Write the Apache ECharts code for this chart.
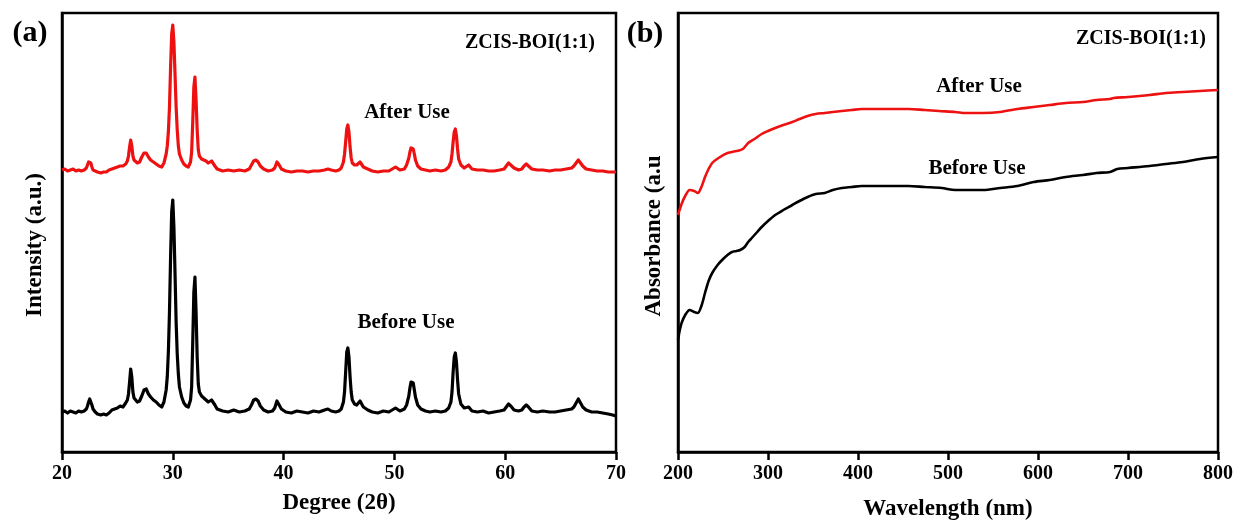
<!DOCTYPE html>
<html>
<head>
<meta charset="utf-8">
<script src="https://cdn.jsdelivr.net/npm/echarts@6/dist/echarts.min.js"></script>
<style>
  html, body { margin: 0; padding: 0; background: #fff; }
  #chart { width: 1236px; height: 523px; }
</style>
</head>
<body>
<div id="chart"></div>
<script>
// XRD patterns of ZCIS-BOI(1:1): [2θ (deg), intensity (a.u.)]
const xrdBefore = [
  [20.0,40],[20.25,41],[20.5,39],[20.75,41],[21.0,40],[21.25,39],[21.5,41],[21.75,40],[22.0,41],
  [22.2,43],[22.3,46],[22.4,50],[22.5,53],[22.6,52],[22.7,47],[22.8,43],[23.0,40],[23.2,38],
  [23.5,37],[23.75,38],[24.0,37],[24.25,39],[24.5,42],[24.75,43],[25.0,44],[25.25,46],[25.5,45],
  [25.75,49],[25.9,52],[26.0,58],[26.1,70],[26.2,83],[26.3,75],[26.4,60],[26.5,54],[26.6,52],
  [26.8,50],[27.0,51],[27.2,56],[27.4,62],[27.5,64],[27.6,63],[27.8,58],[28.0,55],[28.25,52],
  [28.5,50],[28.75,47],[29.0,45],[29.2,50],[29.4,62],[29.5,75],[29.6,100],[29.7,140],[29.8,195],
  [29.9,240],[30.0,252],[30.1,225],[30.2,179],[30.3,130],[30.4,98],[30.5,78],[30.6,65],[30.8,55],
  [31.0,49],[31.2,46],[31.4,45],[31.6,52],[31.7,65],[31.8,110],[31.9,160],[32.0,175],[32.1,140],
  [32.2,95],[32.3,68],[32.4,60],[32.6,56],[32.8,54],[33.0,52],[33.2,50],[33.5,52],[33.8,47],
  [34.0,43],[34.5,41],[35.0,40],[35.5,42],[36.0,40],[36.5,41],[36.9,43],[37.1,47],[37.3,52],
  [37.5,53],[37.7,51],[37.9,46],[38.2,42],[38.6,40],[39.0,41],[39.2,44],[39.4,51],[39.6,47],
  [39.8,43],[40.2,40],[40.7,39],[41.2,41],[41.7,40],[42.2,39],[42.7,41],[43.2,40],[43.7,42],
  [44.0,43],[44.3,41],[44.7,40],[45.0,41],[45.2,43],[45.4,50],[45.5,60],[45.6,80],[45.7,100],
  [45.8,104],[45.9,95],[46.0,75],[46.1,60],[46.2,52],[46.4,48],[46.6,47],[46.9,51],[47.2,45],
  [47.6,42],[48.0,40],[48.5,39],[49.0,41],[49.5,40],[50.1,44],[50.5,41],[50.9,43],[51.1,47],
  [51.3,56],[51.4,64],[51.5,70],[51.6,72],[51.7,69],[51.8,62],[51.9,55],[52.1,47],[52.4,43],
  [52.8,41],[53.2,40],[53.7,41],[54.2,40],[54.6,41],[54.9,44],[55.1,50],[55.2,60],[55.3,80],
  [55.4,95],[55.5,99],[55.6,90],[55.7,72],[55.8,58],[56.0,48],[56.3,44],[56.7,45],[57.0,41],
  [57.5,40],[58.0,41],[58.5,39],[59.0,40],[59.5,41],[59.9,42],[60.1,45],[60.3,48],[60.5,46],
  [60.8,42],[61.2,41],[61.5,42],[61.7,45],[61.9,47],[62.1,45],[62.4,41],[62.9,40],[63.4,41],
  [64.0,40],[64.5,40],[65.0,41],[65.5,42],[66.0,43],[66.2,45],[66.4,49],[66.6,53],[66.8,49],
  [67.0,45],[67.3,42],[67.8,40],[68.3,40],[68.8,39],[69.3,38],[69.7,37],[70.0,36]
];

const xrdAfter = [
  [20.0,282],[20.25,283],[20.5,281],[20.75,282],[21.0,283],[21.25,281],[21.5,282],[21.75,281],[22.0,282],
  [22.2,284],[22.3,287],[22.4,290],[22.5,291],[22.6,289],[22.7,285],[22.8,282],[23.0,281],[23.2,280],
  [23.5,279],[23.75,280],[24.0,280],[24.25,282],[24.5,283],[24.75,284],[25.0,285],[25.25,286],[25.5,286],
  [25.75,288],[25.9,291],[26.0,296],[26.1,305],[26.2,312],[26.3,306],[26.4,296],[26.5,292],[26.6,290],
  [26.8,289],[27.0,290],[27.2,295],[27.4,299],[27.5,300],[27.6,299],[27.8,295],[28.0,292],[28.25,290],
  [28.5,288],[28.75,286],[29.0,285],[29.2,289],[29.4,298],[29.5,306],[29.6,320],[29.7,345],[29.8,385],
  [29.9,418],[30.0,427],[30.1,410],[30.2,378],[30.3,345],[30.4,322],[30.5,306],[30.6,298],[30.8,292],
  [31.0,288],[31.2,286],[31.4,285],[31.6,290],[31.7,300],[31.8,330],[31.9,365],[32.0,375],[32.1,352],
  [32.2,322],[32.3,302],[32.4,296],[32.6,293],[32.8,292],[33.0,291],[33.2,289],[33.5,291],[33.8,286],
  [34.0,283],[34.5,281],[35.0,282],[35.5,281],[36.0,282],[36.5,281],[36.9,283],[37.1,287],[37.3,291],
  [37.5,292],[37.7,290],[37.9,286],[38.2,283],[38.6,281],[39.0,282],[39.2,284],[39.4,290],[39.6,287],
  [39.8,283],[40.2,281],[40.7,280],[41.2,281],[41.7,281],[42.2,280],[42.7,281],[43.2,281],[43.7,282],
  [44.0,283],[44.3,282],[44.7,281],[45.0,282],[45.2,284],[45.4,290],[45.5,298],[45.6,310],[45.7,323],
  [45.8,327],[45.9,320],[46.0,305],[46.1,294],[46.2,289],[46.4,287],[46.6,287],[46.9,290],[47.2,285],
  [47.6,283],[48.0,281],[48.5,280],[49.0,281],[49.5,281],[50.1,285],[50.5,282],[50.9,283],[51.1,287],
  [51.3,294],[51.4,300],[51.5,304],[51.6,305],[51.7,303],[51.8,298],[51.9,292],[52.1,286],[52.4,283],
  [52.8,282],[53.2,281],[53.7,282],[54.2,281],[54.6,282],[54.9,285],[55.1,290],[55.2,298],[55.3,310],
  [55.4,320],[55.5,323],[55.6,316],[55.7,303],[55.8,293],[56.0,287],[56.3,284],[56.7,287],[57.0,283],
  [57.5,282],[58.0,282],[58.5,281],[59.0,281],[59.5,282],[59.9,283],[60.1,286],[60.3,289],[60.5,287],
  [60.8,284],[61.2,282],[61.5,283],[61.7,286],[61.9,288],[62.1,286],[62.4,283],[62.9,282],[63.4,282],
  [64.0,281],[64.5,282],[65.0,282],[65.5,283],[66.0,284],[66.2,286],[66.4,289],[66.6,292],[66.8,289],
  [67.0,286],[67.3,283],[67.8,282],[68.3,281],[68.8,281],[69.3,280],[69.7,280],[70.0,280]
];

// UV-vis absorbance: [wavelength (nm), absorbance (a.u.)]
const uvBefore = [
  [200,112],[202,122],[204,129],[208,137],[213,142],[218,140],[222,139],[226,146],[230,159],
  [234,171],[238,179],[244,187],[249,192],[255,197],[260,200],[265,201],[269,202],[274,205],
  [278,210],[282,214],[288,220],[293,225],[300,231],[308,237],[317,242],[327,247],[335,251],
  [344,255],[353,258],[363,259],[372,262],[382,264],[393,265],[404,266],[420,266],[438,266],
  [456,266],[474,265],[493,264],[508,262],[520,262],[539,262],[558,264],[577,266],[595,270],
  [613,272],[631,275],[650,277],[665,279],[680,280],[688,283],[700,284],[724,286],[742,288],
  [761,290],[780,293],[800,295]
];

const uvAfter = [
  [200,237],[204,248],[208,256],[213,262],[218,261],[222,259],[226,265],[230,275],[234,283],
  [238,289],[245,294],[255,299],[265,301],[272,303],[278,309],[285,313],[293,318],[300,321],
  [308,324],[317,327],[327,330],[335,333],[344,336],[353,338],[363,339],[372,340],[382,341],
  [393,342],[404,343],[420,343],[438,343],[456,343],[474,342],[490,341],[508,340],[520,339],
  [539,339],[558,340],[577,343],[595,345],[613,347],[631,349],[650,350],[665,352],[680,353],
  [684,354],[700,355],[724,357],[742,359],[761,360],[780,361],[800,362]
];

const xrdTicks = [20, 30, 40, 50, 60, 70];
const uvTicks = [200, 300, 400, 500, 600, 700, 800];

const FONT = '"Liberation Serif", "Times New Roman", serif';
const RED = '#ee1111';
const BLACK = '#000000';

function boldText(size) {
  return { fontFamily: FONT, fontWeight: 'bold', fontSize: size, color: '#000' };
}

function xAxisFor(gridIndex, ticks, name, nameGap) {
  return {
    type: 'value', gridIndex: gridIndex,
    min: ticks[0], max: ticks[ticks.length - 1],
    interval: ticks[1] - ticks[0],
    name: name, nameLocation: 'middle', nameGap: nameGap,
    nameTextStyle: boldText(23),
    axisLine: { show: true, lineStyle: { color: '#000', width: 2.5 } },
    axisTick: { show: true, inside: false, length: 8, lineStyle: { color: '#000', width: 2.5 } },
    axisLabel: { ...boldText(20), margin: 12 },
    splitLine: { show: false }
  };
}

function yAxisFor(gridIndex) {
  return {
    type: 'value', gridIndex: gridIndex, min: 0, max: 439,
    axisLine: { show: true, lineStyle: { color: '#000', width: 2.5 } },
    axisTick: { show: false }, axisLabel: { show: false },
    splitLine: { show: false }
  };
}

function line(data, color, width, xi, yi, smooth) {
  return {
    type: 'line', data: data, xAxisIndex: xi, yAxisIndex: yi,
    showSymbol: false, symbol: 'none', animation: false, smooth: smooth,
    lineStyle: { color: color, width: width, join: 'round' }
  };
}

function label(text, x, y, size, rotation) {
  return {
    type: 'text', x: x, y: y, rotation: rotation || 0,
    style: { text: text, font: 'bold ' + size + 'px ' + FONT, fill: '#000', align: 'center', verticalAlign: 'middle' }
  };
}

const chart = echarts.init(document.getElementById('chart'), null, { renderer: 'canvas' });
chart.setOption({
  backgroundColor: '#fff',
  animation: false,
  grid: [
    { left: 62, top: 13, width: 554, height: 439, outerBoundsMode: 'none', containLabel: false,
      show: true, borderColor: '#000', borderWidth: 2.5, backgroundColor: 'transparent' },
    { left: 678, top: 13, width: 540, height: 439, outerBoundsMode: 'none', containLabel: false,
      show: true, borderColor: '#000', borderWidth: 2.5, backgroundColor: 'transparent' }
  ],
  xAxis: [
    xAxisFor(0, xrdTicks, 'Degree (2θ)', 40),
    xAxisFor(1, uvTicks, 'Wavelength (nm)', 46)
  ],
  yAxis: [yAxisFor(0), yAxisFor(1)],
  series: [
    line(xrdBefore, BLACK, 3.2, 0, 0, false),
    line(xrdAfter, RED, 3.2, 0, 0, false),
    line(uvBefore, BLACK, 2.6, 1, 1, 0.3),
    line(uvAfter, RED, 2.6, 1, 1, 0.3)
  ],
  graphic: [
    label('(a)', 30, 33, 30),
    label('(b)', 645, 34, 30),
    label('Intensity (a.u.)', 35, 245, 23, Math.PI / 2),
    label('Absorbance (a.u', 654, 236, 23, Math.PI / 2),
    label('ZCIS-BOI(1:1)', 530, 43, 20),
    label('ZCIS-BOI(1:1)', 1141, 39, 20),
    label('After Use', 407, 113, 21),
    label('Before Use', 406, 323, 21),
    label('After Use', 979, 87, 21),
    label('Before Use', 977, 169, 21)
  ]
});
</script>
</body>
</html>
